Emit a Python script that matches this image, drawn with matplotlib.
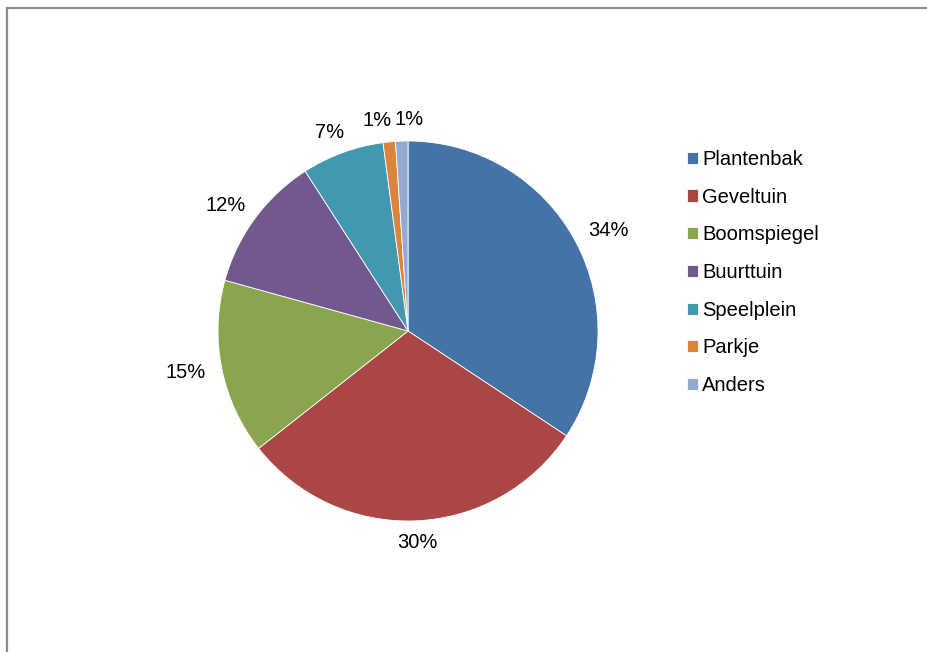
import matplotlib.pyplot as plt
import numpy as np
from matplotlib.patches import Rectangle

categories = ["Plantenbak", "Geveltuin", "Boomspiegel", "Buurttuin", "Speelplein", "Parkje", "Anders"]
values = [34.3, 30.1, 14.9, 11.6, 7.0, 1.05, 1.05]
colors = ["#4572A7", "#AA4643", "#89A54E", "#71588F", "#4198AF", "#DB843D", "#93A9CF"]

plt.rcParams["font.family"] = ["Liberation Sans", "DejaVu Sans"]
fs = 14.5

fig = plt.figure(figsize=(9.27, 6.52), dpi=100)
ax = fig.add_axes([0.1737, 0.1135, 0.5329, 0.7577])
wedges, _ = ax.pie(values, colors=colors, startangle=90, counterclock=False,
                   radius=1, wedgeprops=dict(edgecolor="white", linewidth=0.6))
ax.set_xlim(-1.3, 1.3)
ax.set_ylim(-1.3, 1.3)
ax.set_aspect("equal")
ax.axis("off")

# percentage labels just outside each slice (Excel "outside end" style)
total = sum(values)
gap, hw, hh = 0.07, 0.125, 0.045
pos = []
for w in wedges:
    th = np.deg2rad((w.theta1 + w.theta2) / 2)
    c, s = np.cos(th), np.sin(th)
    pos.append([(1 + gap) * c + hw * c, (1 + gap) * s + hh * s])

# push apart labels of neighbouring tiny slices
min_sep = 0.165
for i in range(len(pos) - 1):
    a, b = pos[i], pos[i + 1]
    if abs(a[1] - b[1]) < 0.1 and abs(a[0] - b[0]) < min_sep:
        mid = (a[0] + b[0]) / 2
        lo, hi = sorted([i, i + 1], key=lambda k: pos[k][0])
        pos[lo][0] = mid - min_sep / 2
        pos[hi][0] = mid + min_sep / 2

for (x, y), v in zip(pos, values):
    ax.text(x, y, f"{v / total * 100:.0f}%", ha="center", va="center", fontsize=fs)

fig.legend(wedges, categories, loc="center left", bbox_to_anchor=(0.741, 0.582),
           frameon=False, fontsize=fs, handlelength=0.55, handleheight=0.55,
           handletextpad=0.22, labelspacing=0.93, borderpad=0, borderaxespad=0)

# chart border (only left and top visible in the crop)
fig.add_artist(Rectangle((7.5 / 927, -0.1), 1.2, 1.1 - 7.5 / 652, transform=fig.transFigure,
                         fill=False, edgecolor="#8c8c8c", linewidth=1.6, clip_on=False))

fig.savefig("out.png", dpi=100)
